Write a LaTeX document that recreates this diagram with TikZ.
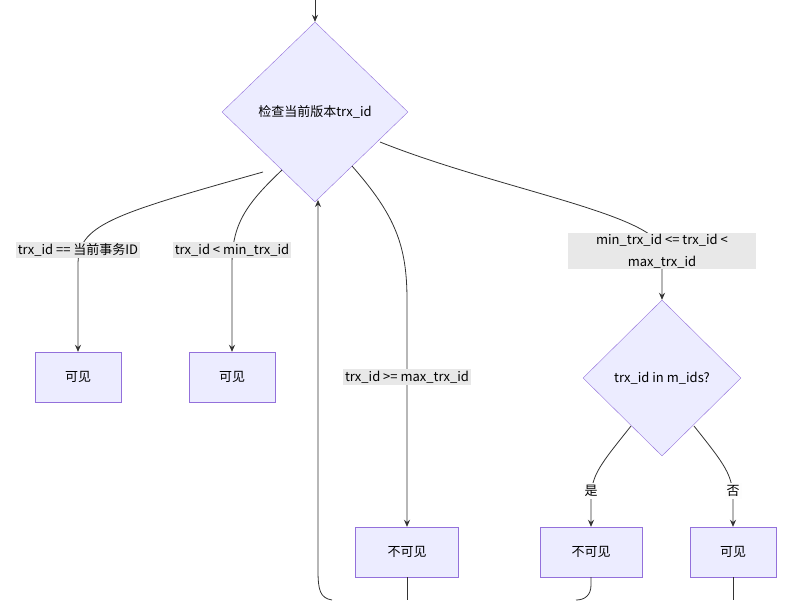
\documentclass[tikz,border=0pt]{standalone}
\usepackage{fontspec}
\setmainfont{Noto Sans CJK SC}
\usetikzlibrary{shapes.geometric,arrows.meta}
\definecolor{nodefill}{HTML}{ECECFF}
\definecolor{nodeline}{HTML}{9370DB}
\definecolor{labelbg}{HTML}{E8E8E8}
\definecolor{edgeline}{HTML}{333333}
\tikzset{
  box/.style={draw=nodeline, fill=nodefill, minimum width=86pt, minimum height=50pt, inner sep=0pt},
  check/.style={draw=nodeline, fill=nodefill, diamond, inner sep=0pt},
  tag/.style={fill=labelbg, inner sep=2pt, align=center},
  flow/.style={draw=edgeline, line width=0.8pt},
  tip/.style={-{Stealth[length=7pt,width=6pt]}}
}
\begin{document}
\begin{tikzpicture}[x=1pt,y=-1pt,font=\fontsize{13}{22}\selectfont]
    \useasboundingbox (0,0) rectangle (800,600);

    % Decisions
    \node[check, minimum width=186pt, minimum height=180pt] (top) at (315,112) {检查当前版本trx\_id};
    \node[check, minimum width=158pt, minimum height=156pt] (inm) at (662,378) {trx\_id in m\_ids?};

    % Results
    \node[box] (self) at (78,377) {可见};
    \node[box] (old) at (232,377) {可见};
    \node[box, minimum width=103pt] (new) at (407,552) {不可见};
    \node[box, minimum width=102pt] (active) at (591,552) {不可见};
    \node[box] (done) at (733,552) {可见};

    % Free ends
    \coordinate (entry) at (315,0);
    \coordinate (back) at (332,600);
    \coordinate (outa) at (407,600);
    \coordinate (outb) at (576,600);
    \coordinate (outc) at (733,600);

    % Edges
    \draw[flow, tip] (entry) -- (top.north);
    \draw[flow, tip] (263,172) .. controls (110,215) and (78,225) .. (78,265) -- (self.north);
    \draw[flow, tip] (282,170) .. controls (245,205) and (232,225) .. (232,265) -- (old.north);
    \draw[flow, tip] (352,166) .. controls (395,215) and (407,245) .. (407,300) -- (new.north);
    \draw[flow, tip] (380,142) .. controls (500,190) and (662,215) .. (662,252) -- (inm.north);
    \draw[flow, tip] (back) .. controls (320,598) and (318,590) .. (318,570) -- (318,200);
    \draw[flow, tip] (631,426) .. controls (600,465) and (591,475) .. (591,500) -- (active.north);
    \draw[flow, tip] (694,426) .. controls (725,465) and (733,475) .. (733,500) -- (done.north);
    \draw[flow] (new.south) -- (outa);
    \draw[flow] (active.south) -- (591,585) .. controls (591,595) and (585,600) .. (outb);
    \draw[flow] (done.south) -- (outc);

    % Edge labels
    \node[tag] (lself) at (78,250) {trx\_id == 当前事务ID};
    \node[tag] (lold) at (232,250) {trx\_id < min\_trx\_id};
    \node[tag] (lnew) at (407,377) {trx\_id >= max\_trx\_id};
    \node[tag, minimum width=188pt, inner sep=1pt] (lmid) at (662,251) {min\_trx\_id <= trx\_id <\\max\_trx\_id};
    \node[tag, fill=white!90!labelbg] (lyes) at (591,491) {是};
    \node[tag, fill=white!90!labelbg] (lno) at (733,491) {否};
\end{tikzpicture}
\end{document}
